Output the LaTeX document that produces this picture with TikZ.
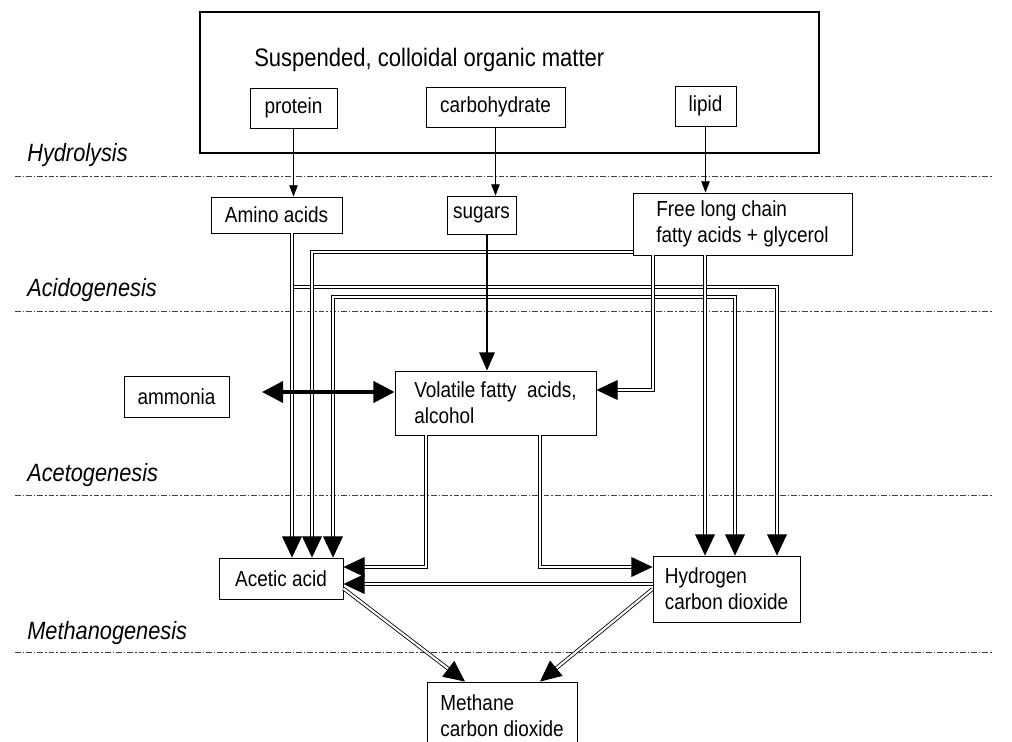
\documentclass[tikz,border=0pt]{standalone}
\usepackage{fontspec}
\setmainfont{Liberation Sans}[FakeStretch=0.87]
\usetikzlibrary{arrows.meta, calc}

\begin{document}
\begin{tikzpicture}[x=0.025cm, y=-0.025cm,
  box/.style={draw, line width=0.6pt, inner sep=0pt, align=left,
              font=\fontsize{15.5}{18.5}\selectfont},
  phase/.style={anchor=west, inner sep=0pt, font=\fontsize{17.8}{21}\selectfont\itshape},
  stage/.style={draw=black!75, line width=0.7pt,
                dash pattern=on 4pt off 1.5pt on 1pt off 1.5pt},
  feed/.style={draw, line width=0.6pt, -{Triangle[length=8pt, width=6pt]}},
  pipe/.style={draw, line width=0.6pt, double, double distance=1.5pt,
               -{Triangle[length=15pt, width=14pt]}},
  heavy/.style={draw, line width=1.5pt, -{Triangle[length=13pt, width=11pt]}}]

  \useasboundingbox (0,0) rectangle (1012,742);

  % phases
  \foreach \name/\ty/\ly [count=\i] in {Hydrolysis/155/176, Acidogenesis/290/311,
      Acetogenesis/475/495, Methanogenesis/633/652}{
    \node[phase] (phase\i) at (27,\ty) {\name};
    \draw[stage] (15,\ly) -- (993,\ly);
  }

  % organic matter
  \node[draw, line width=1.1pt, minimum width=15.475cm, minimum height=3.525cm] (matter) at (509.5,82.5) {};
  \node[anchor=west, inner sep=0pt, font=\fontsize{18}{21}\selectfont] (title) at (254,60)
    {Suspended, colloidal organic matter};
  \node[box, minimum width=2.175cm, minimum height=1cm] (protein) at (293.5,108) {protein};
  \node[box, minimum width=3.475cm, minimum height=1cm] (carb) at (495.5,107) {carbohydrate};
  \node[box, minimum width=1.525cm, minimum height=1cm] (lipid) at (705.5,106) {lipid};

  % hydrolysis products
  \node[box, minimum width=3.275cm, minimum height=0.9cm] (amino) at (276.5,215) {Amino acids};
  \node[box, minimum width=1.725cm, minimum height=0.95cm] (sugars) at (481.5,215) {sugars};
  \node[box, minimum width=5.475cm, minimum height=1.55cm] (flc) at (742.5,224)
    {Free long chain\\fatty acids + glycerol};

  % acidogenesis products
  \node[box, minimum width=2.625cm, minimum height=1.025cm] (ammo) at (176.5,396.5) {ammonia};
  \node[box, minimum width=5.025cm, minimum height=1.6cm] (vfa) at (495.5,403)
    {Volatile fatty~ acids,\\alcohol};

  % acetogenesis products
  \node[box, minimum width=3.1cm, minimum height=1.025cm] (acetic) at (281,578.5) {Acetic acid};
  \node[box, minimum width=3.675cm, minimum height=1.65cm] (hydro) at (726.5,589)
    {Hydrogen\\carbon dioxide};

  % methanogenesis product
  \node[box, minimum width=3.75cm, minimum height=1.7cm] (methane) at (502,716)
    {Methane\\carbon dioxide};

  % lanes and rows
  \coordinate (a1) at (292,0);
  \coordinate (a2) at (312,0);
  \coordinate (a3) at (333,0);
  \coordinate (s) at (487,0);
  \coordinate (v1) at (426,0);
  \coordinate (v2) at (540,0);
  \coordinate (f1) at (653,0);
  \coordinate (f2) at (705,0);
  \coordinate (h1) at (735,0);
  \coordinate (h2) at (777,0);
  \coordinate (r1) at (0,252);
  \coordinate (r2) at (0,287);
  \coordinate (r3) at (0,297);
  \coordinate (rv) at (0,390);
  \coordinate (ra) at (0,567);
  \coordinate (rh) at (0,584);
  \coordinate (nh3end) at (262,392);

  % hydrolysis
  \draw[feed] (protein.south) -- (protein.south |- amino.north);
  \draw[feed] (carb.south) -- (carb.south |- sugars.north);
  \draw[feed] (lipid.south) -- (lipid.south |- flc.north);

  % acidogenesis
  \draw[pipe] (amino.south -| a1) |- (h2 |- r2) -- (hydro.north -| h2);
  \draw[pipe] (flc.west |- r1) -| (acetic.north -| a2);
  \draw[pipe] (s |- r3) -| (acetic.north -| a3);
  \draw[pipe] (s |- r3) -| (hydro.north -| h1);
  \draw[pipe] (amino.south -| a1) -- (acetic.north -| a1);
  \draw[pipe] (flc.south -| f1) |- (vfa.east |- rv);
  \draw[pipe] (flc.south -| f2) -- (hydro.north -| f2);
  \draw[heavy] (sugars.south -| s) -- (vfa.north -| s);
  \draw[heavy, line width=2.6pt, {Triangle[length=15pt, width=15pt]}-{Triangle[length=15pt, width=15pt]}]
    (nh3end) -- (vfa.west |- nh3end);

  % acetogenesis
  \draw[pipe] (vfa.south -| v1) |- (acetic.east |- ra);
  \draw[pipe] (vfa.south -| v2) |- (hydro.west |- ra);
  \draw[pipe, line width=0.8pt] (hydro.west |- rh) -- (acetic.east |- rh);

  % methanogenesis
  \draw[pipe] ([yshift=-0.25cm]acetic.east) -- ([xshift=-0.925cm]methane.north);
  \draw[pipe] (hydro.west) -- ([xshift=0.95cm]methane.north);

\end{tikzpicture}
\end{document}
